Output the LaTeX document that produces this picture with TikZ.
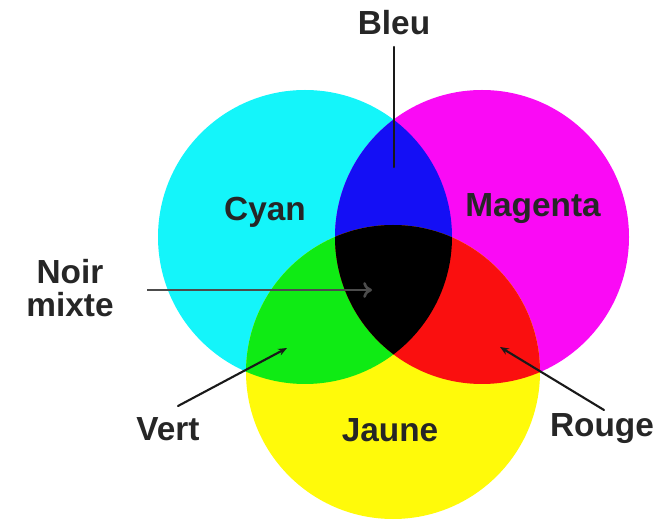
\documentclass[tikz,border=0pt]{standalone}
\usepackage{fontspec}
\setmainfont{Liberation Sans}
\usepackage{tikz}
\usetikzlibrary{arrows.meta,positioning,calc}
\definecolor{inkcyan}{RGB}{20,245,250}
\definecolor{inkmagenta}{RGB}{250,10,245}
\definecolor{inkyellow}{RGB}{255,250,10}
\definecolor{mixblue}{RGB}{20,15,245}
\definecolor{mixgreen}{RGB}{15,235,20}
\definecolor{mixred}{RGB}{250,15,15}

\begin{document}
\begin{tikzpicture}[x=0.02cm, y=-0.02cm,
    colorname/.style={font=\fontsize{19}{18.5}\selectfont\bfseries, text=black!85, inner sep=0pt, align=center},
    pointer/.style={line width=1.2pt, draw=black!90, line cap=round},
    ray/.style={line width=1.5pt, draw=black!70, -{To[length=5pt,width=9pt,open]}}
]
\useasboundingbox (0,0) rectangle (659,526);

% Circle centres
\coordinate (cc) at (305,237);
\coordinate (mc) at (482,237);
\coordinate (yc) at (393,372);
\def\rad{147}

% Primary inks
\fill[inkcyan] (cc) circle (\rad);
\fill[inkmagenta] (mc) circle (\rad);
\fill[inkyellow] (yc) circle (\rad);

% Overlaps
\begin{scope}
  \clip (cc) circle (\rad);
  \fill[mixblue] (mc) circle (\rad);
  \fill[mixgreen] (yc) circle (\rad);
\end{scope}
\begin{scope}
  \clip (mc) circle (\rad);
  \fill[mixred] (yc) circle (\rad);
\end{scope}
\begin{scope}
  \clip (cc) circle (\rad);
  \clip (mc) circle (\rad);
  \fill[black] (yc) circle (\rad);
\end{scope}

% Labels
\node[colorname] (cyan) at (265,212) {Cyan};
\node[colorname] (magenta) at (533,209) {Magenta};
\node[colorname] (jaune) at (390,430) {Jaune};
\node[colorname] (bleu) at (394,23) {Bleu};
\node[colorname] (noir) at (70,288) {Noir\\mixte};
\node[colorname] (vert) at (168,429) {Vert};
\node[colorname] (rouge) at (602,429) {Rouge};

% Targets
\coordinate (bleutop) at (394,47);
\coordinate (bleupt) at (394,167);
\coordinate (noirstart) at (147,290);
\coordinate (noirpt) at (372,290);
\coordinate (vertstart) at (178,406);
\coordinate (vertpt) at (287,348);
\coordinate (rougestart) at (604,410);
\coordinate (rougept) at (500,347);

% Connections
\draw[pointer] (bleutop) -- (bleupt);
\draw[ray] (noirstart) -- (noirpt);
\draw[pointer, -{Stealth[length=5pt,width=4pt]}] (vertstart) -- (vertpt);
\draw[pointer, -{Stealth[length=5pt,width=4pt]}] (rougestart) -- (rougept);

\end{tikzpicture}
\end{document}
